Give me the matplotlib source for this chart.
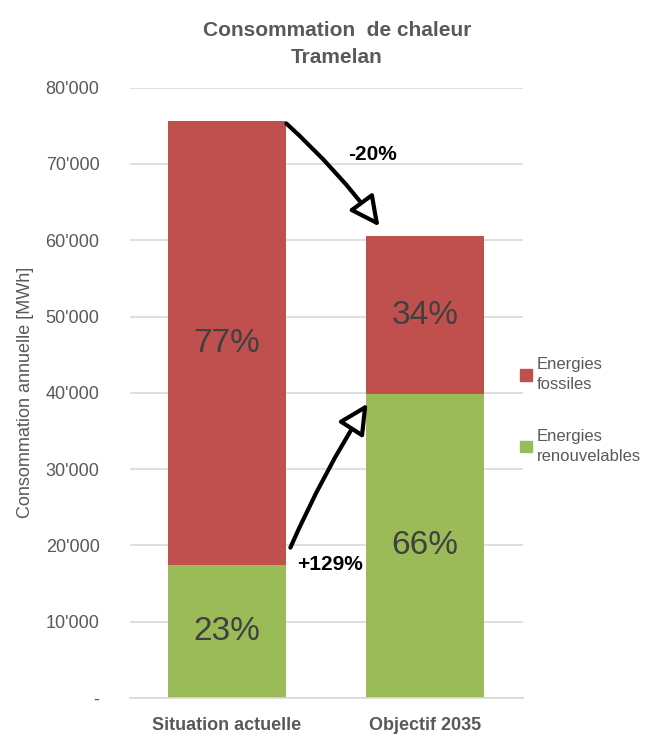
import matplotlib.pyplot as plt
from matplotlib.patches import Patch

plt.rcParams['font.family'] = ['Liberation Sans', 'DejaVu Sans']

# Données (MWh)
categories = ["Situation actuelle", "Objectif 2035"]
renouvelables = [17400, 39900]
fossiles = [58200, 20600]
pct_renouv = ["23%", "66%"]
pct_fossiles = ["77%", "34%"]
ytick_vals = [0, 10000, 20000, 30000, 40000, 50000, 60000, 70000, 80000]
ytick_labels = ["-", "10'000", "20'000", "30'000", "40'000", "50'000", "60'000", "70'000", "80'000"]

rouge = '#C0504D'
vert = '#9BBB59'
gris = '#595959'

fig = plt.figure(figsize=(6.67, 7.37), dpi=100)
ax = fig.add_axes([0.195, 0.053, 0.589, 0.828])

x = range(len(categories))
ax.bar(x, renouvelables, width=0.6, color=vert, zorder=2)
ax.bar(x, fossiles, width=0.6, bottom=renouvelables, color=rouge, zorder=2)

for i in x:
    ax.text(i, renouvelables[i] / 2, pct_renouv[i], ha='center', va='center',
            fontsize=24, color='#404040', zorder=3)
    ax.text(i, renouvelables[i] + fossiles[i] / 2, pct_fossiles[i], ha='center',
            va='center', fontsize=24, color='#404040', zorder=3)

ax.set_xlim(-0.49, 1.495)
ax.set_ylim(0, 80000)
ax.set_yticks(ytick_vals)
ax.set_yticklabels(ytick_labels)
ax.set_xticks(list(x))
ax.set_xticklabels(categories, fontweight='bold', fontsize=13)
ax.tick_params(axis='y', length=0, labelsize=13, labelcolor=gris, pad=22)
ax.tick_params(axis='x', length=0, labelsize=13, labelcolor=gris, pad=14)
ax.grid(axis='y', color='#D9D9D9', lw=1.2, zorder=0)
for s in ['top', 'right', 'left']:
    ax.spines[s].set_visible(False)
ax.spines['bottom'].set_color('#D9D9D9')
ax.spines['bottom'].set_linewidth(1.2)

ax.set_ylabel("Consommation annuelle [MWh]", fontsize=13, color=gris, labelpad=8)

fig.text(0.505, 0.940, "Consommation  de chaleur\nTramelan", ha='center', va='center',
         fontsize=15, fontweight='bold', color=gris, linespacing=1.5)

# flèches
arrow_style = '-|>,head_length=1.8,head_width=0.9'
ax.annotate("", xy=(0.77, 61800), xytext=(0.30, 75300),
            arrowprops=dict(arrowstyle=arrow_style, connectionstyle='arc3,rad=-0.05',
                            facecolor='white', edgecolor='black', lw=3,
                            shrinkA=0, shrinkB=0), zorder=4)
ax.annotate("", xy=(0.71, 38600), xytext=(0.32, 19700),
            arrowprops=dict(arrowstyle=arrow_style, connectionstyle='arc3,rad=-0.04',
                            facecolor='white', edgecolor='black', lw=3,
                            shrinkA=0, shrinkB=0), zorder=4)
ax.text(0.735, 71200, "-20%", ha='center', va='center', fontsize=15,
        fontweight='bold', color='black', zorder=5)
ax.text(0.52, 17500, "+129%", ha='center', va='center', fontsize=15,
        fontweight='bold', color='black', zorder=5)

handles = [Patch(color=rouge, label="Energies\nfossiles"),
           Patch(color=vert, label="Energies\nrenouvelables")]
fig.legend(handles=handles, loc='center left', bbox_to_anchor=(0.757, 0.443),
           frameon=False, fontsize=12, handlelength=0.7, handleheight=0.7,
           handletextpad=0.3, labelspacing=2.2, labelcolor=gris)
for t in fig.legends[0].get_texts():
    t.set_linespacing(1.4)

fig.savefig("out.png", dpi=100)
